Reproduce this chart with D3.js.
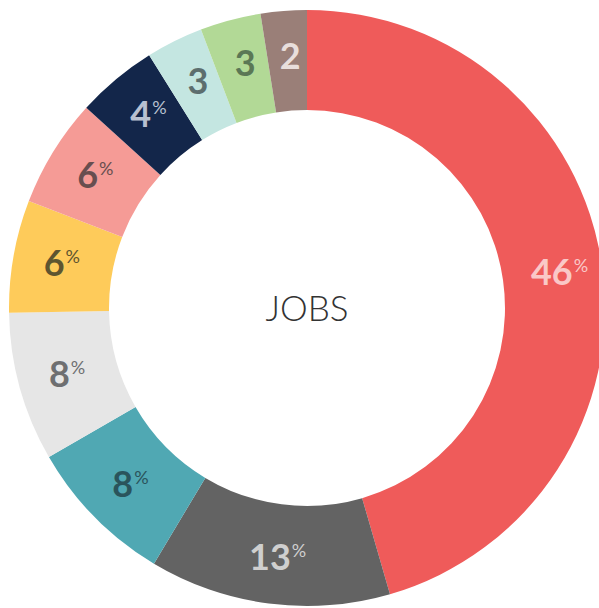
<!DOCTYPE html>
<meta charset="utf-8">

<script src="https://d3js.org/d3.v7.min.js"></script>

<style type="text/css">

    body {
        margin: 0;
        background: #fff;
    }

    .num {
        font-family: "Lato", "Open Sans", sans-serif;
        font-weight: 700;
    }

</style>

<body>
</body>

<script>

// data, clockwise from 12 o'clock
var categories = ["a", "b", "c", "d", "e", "f", "g", "h", "i", "j"];
var values = [45.6, 13.1, 8.1, 8.1, 6.1, 5.9, 4.4, 3.1, 3.3, 2.5];
var labels = ["46", "13", "8", "8", "6", "6", "4", "3", "3", "2"];
var showPct = [true, true, true, true, true, true, true, false, false, false];

var colors = ["#ef5b5a", "#636363", "#50a8b3", "#e6e6e6", "#fecb5a",
              "#f59b96", "#13264a", "#c4e6e1", "#b2d996", "#9a7f78"];
var labelColors = ["#fac8c7", "#cfcfcf", "#2a545c", "#6e6f71", "#5e5530",
                   "#684e4f", "#b8c0d0", "#5d6e6e", "#5b7755", "#e8dedc"];

var width = 599,
    height = 608;

var cx = 307, cy = 308;
var outerR = 298, innerR = 198, labelR = 252;

var svg = d3.select("body").append("svg")
    .attr("width", width)
    .attr("height", height)
    .append("g")
    .attr("transform", "translate(" + cx + "," + cy + ")");

var pie = d3.pie()
    .sort(null)
    .value(function(d) { return d; });

var arc = d3.arc()
    .innerRadius(innerR)
    .outerRadius(outerR);

var labelArc = d3.arc()
    .innerRadius(labelR)
    .outerRadius(labelR);

var arcs = pie(values);

svg.selectAll(".slice")
    .data(arcs)
    .enter()
    .append("path")
    .attr("class", "slice")
    .attr("d", arc)
    .style("fill", function(d, i) { return colors[i]; });

// labels sit on a ring nudged a little right / up of the donut centre
var labelG = svg.append("g")
    .attr("transform", "translate(3,-1)");

var labelText = labelG.selectAll(".label")
    .data(arcs)
    .enter()
    .append("text")
    .attr("class", "label num")
    .attr("transform", function(d) { return "translate(" + labelArc.centroid(d) + ")"; })
    .attr("text-anchor", "middle")
    .style("fill", function(d, i) { return labelColors[i]; });

labelText.append("tspan")
    .attr("dy", 13)
    .style("font-size", "36px")
    .text(function(d, i) { return labels[i]; });

labelText.filter(function(d, i) { return showPct[i]; })
    .append("tspan")
    .attr("dy", -13)
    .attr("dx", 1)
    .style("font-size", "18px")
    .style("font-weight", 400)
    .text("%");

// centre title
svg.append("text")
    .attr("text-anchor", "middle")
    .attr("dy", 13)
    .style("font-family", "Lato, 'Open Sans', sans-serif")
    .style("font-weight", 300)
    .style("font-size", "35px")
    .style("fill", "#333")
    .text("JOBS");

</script>
